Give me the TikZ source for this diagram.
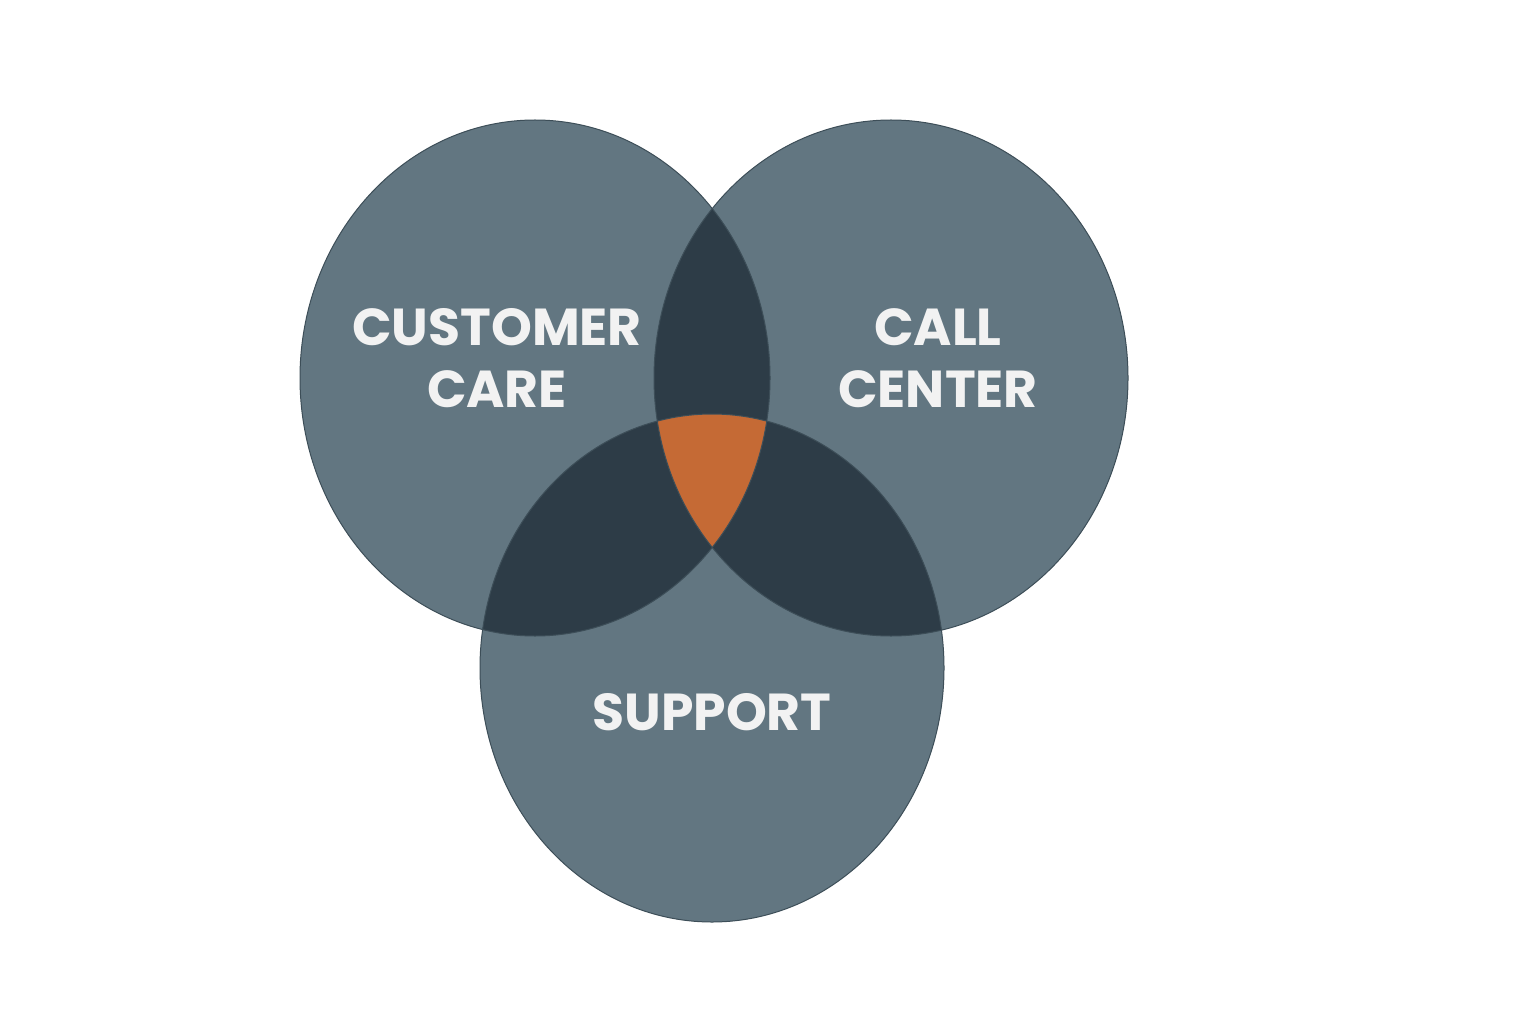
\documentclass[tikz,border=0pt]{standalone}
\usepackage{fontspec}
\setmainfont{Poppins}
\definecolor{base}{HTML}{627681}
\definecolor{dark}{HTML}{2D3C47}
\definecolor{core}{HTML}{C56A35}
\definecolor{txt}{HTML}{F2F2F2}
\begin{document}
\begin{tikzpicture}[x=1pt,y=-1pt,
  lbl/.style={text=txt,font=\fontsize{52}{62}\selectfont\bfseries,align=center}]
\useasboundingbox (0,0) rectangle (1536,1024);
\def\A{(535,378) ellipse [x radius=235,y radius=258]}
\def\B{(891,378) ellipse [x radius=237,y radius=258]}
\def\C{(712,668) ellipse [x radius=232,y radius=254]}
\fill[base] \A; \fill[base] \B; \fill[base] \C;
\begin{scope}\clip \A; \fill[dark] \B; \fill[dark] \C; \end{scope}
\begin{scope}\clip \B; \fill[dark] \C; \end{scope}
\begin{scope}\clip \A; \clip \B; \fill[core] \C; \end{scope}
\draw[dark!70!base,line width=1] \A; 
\draw[dark!70!base,line width=1] \B;
\draw[dark!70!base,line width=1] \C;
\node[lbl] (cc) at (497,358) {CUSTOMER\\CARE};
\node[lbl] (cl) at (938,358) {CALL\\CENTER};
\node[lbl] (sp) at (712,712) {SUPPORT};
\end{tikzpicture}
\end{document}
